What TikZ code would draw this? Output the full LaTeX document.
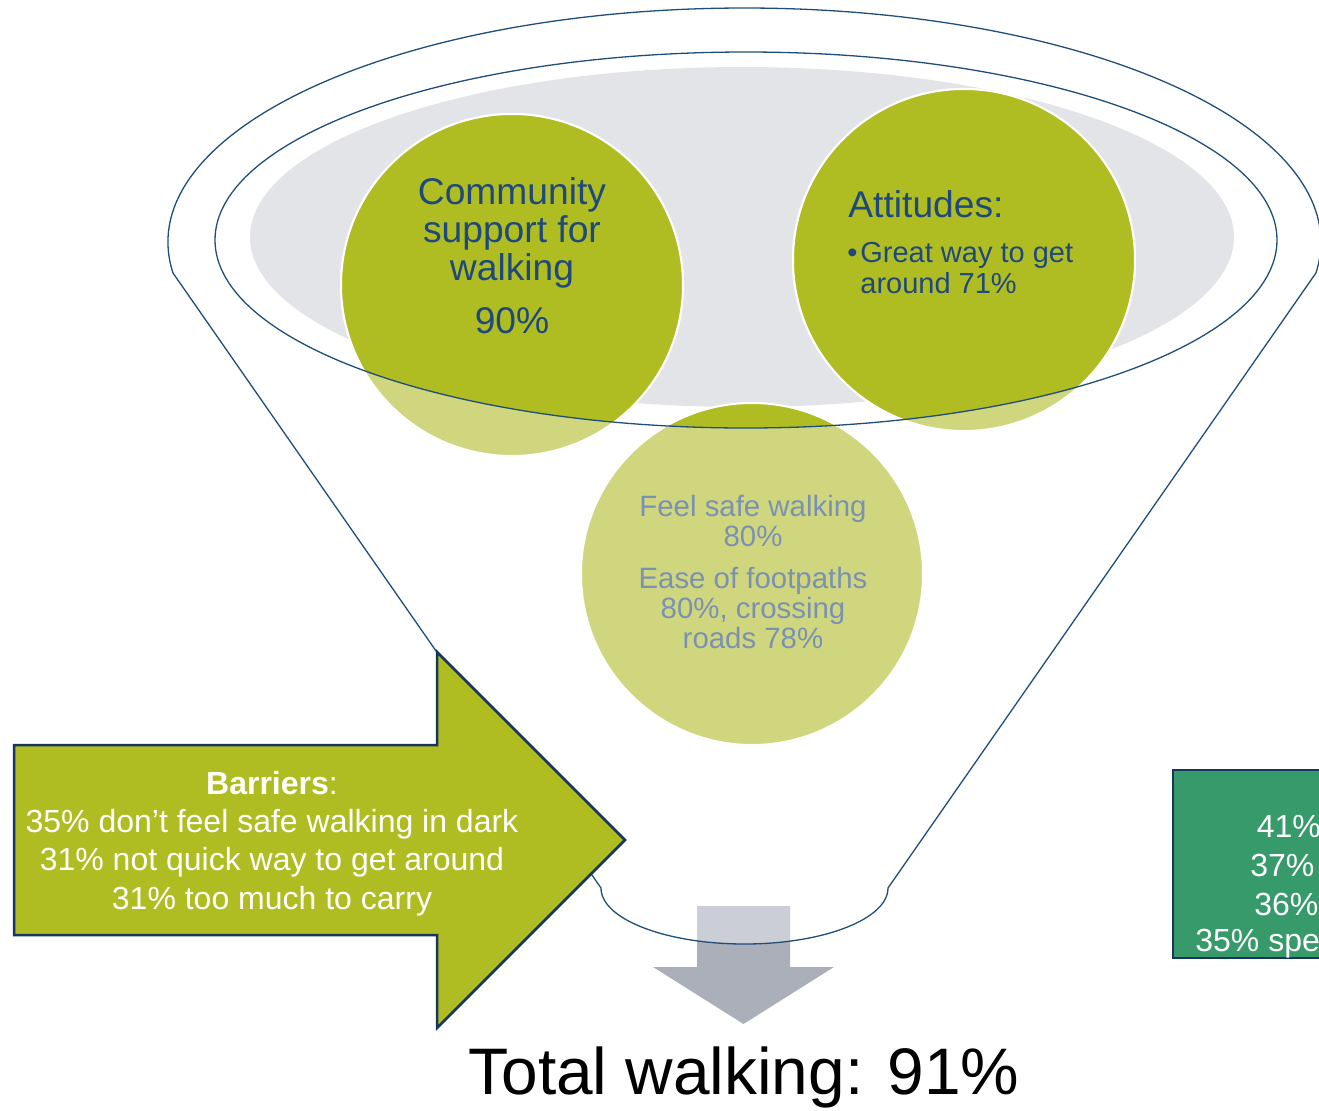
\documentclass[tikz,border=0pt]{standalone}
\usepackage{fontspec}
\setmainfont{Liberation Sans}
\definecolor{olive}{HTML}{AFBD22}
\definecolor{olivelight}{HTML}{D0D67E}
\definecolor{rimblue}{HTML}{1F4E79}
\definecolor{navytext}{HTML}{1F497D}
\definecolor{softblue}{HTML}{7A92B2}
\definecolor{haze}{HTML}{E3E4E8}
\definecolor{boxgreen}{HTML}{379A6B}
\definecolor{edgenavy}{HTML}{17365D}
\definecolor{arrowlight}{HTML}{CBCED6}
\definecolor{arrowdark}{HTML}{ABAFBA}
\begin{document}
\begin{tikzpicture}[x=0.5pt,y=-0.5pt,
  rimline/.style={draw=rimblue, line width=0.65pt},
  disc/.style={draw=white, line width=1pt},
  label/.style={inner sep=0pt, anchor=base},
  bigtxt/.style={label, text=navytext, font=\fontsize{18.6}{20}\selectfont},
  midtxt/.style={label, text=navytext, font=\fontsize{14.5}{16}\selectfont, anchor=base west},
  softtxt/.style={label, text=softblue, font=\fontsize{14.7}{16}\selectfont},
  whitetxt/.style={label, text=white, font=\fontsize{16}{18}\selectfont},
  boxed/.style={draw=edgenavy, line width=1.25pt, line join=miter}]
\useasboundingbox (0,0) rectangle (1319,1110);
\clip (0,0) rectangle (1319,1110);

% funnel outline: elliptic top, straight sides, rounded spout
\def\funnelpath{(173,273) arc[start angle=172.44, end angle=367.56, x radius=576.5, y radius=234.2]
  -- (888,888) arc[start angle=0, end angle=180, x radius=143.5, y radius=56] -- cycle}
\def\rimpath{(746,240) ellipse [x radius=531, y radius=188]}

\coordinate (cA) at (512,285);
\coordinate (cB) at (964,260);
\coordinate (cC) at (752,574);

% grey mouth of the funnel
\fill[haze] (742,237) ellipse [x radius=492, y radius=170];

% the three discs, pale outside the rim and full colour inside it
\foreach \c in {cA,cB,cC} \path[disc, fill=olivelight] (\c) circle [radius=171];
\begin{scope}
  \clip \rimpath;
  \foreach \c in {cA,cB,cC} \path[disc, fill=olive] (\c) circle [radius=171];
\end{scope}

% downward output arrow, lighter where it sits inside the spout
\path[fill=arrowdark] (697,906) -- (790,906) -- (790,967) -- (834,967)
  -- (743.5,1024) -- (653,967) -- (697,967) -- cycle;
\begin{scope}
  \clip \funnelpath;
  \path[fill=arrowlight] (697,906) rectangle (790,967);
\end{scope}

% rim and funnel lines
\draw[rimline] \rimpath;
\draw[rimline] \funnelpath;

% disc texts
\node[bigtxt] (ca1) at (512,204.3) {Community};
\node[bigtxt] (ca2) at (512,242.3) {support for};
\node[bigtxt] (ca3) at (512,280.5) {walking};
\node[bigtxt] (ca4) at (512,333.3) {90\%};

\node[bigtxt, anchor=base west] (cb1) at (848,217) {Attitudes:};
\node[midtxt] (cbdot) at (847,262) {•};
\node[midtxt] (cb2) at (860,262) {Great way to get};
\node[midtxt] (cb3) at (860,293) {around 71\%};

\node[softtxt] (cc1) at (753,516.7) {Feel safe walking};
\node[softtxt] (cc2) at (753,546.7) {80\%};
\node[softtxt] (cc3) at (753,588.3) {Ease of footpaths};
\node[softtxt] (cc4) at (753,618.3) {80\%, crossing};
\node[softtxt] (cc5) at (753,648.3) {roads 78\%};

% barriers arrow
\path[fill=olive, boxed] (14,745) -- (437,745) -- (437,652) -- (625,840)
  -- (437,1028) -- (437,935) -- (14,935) -- cycle;
\node[whitetxt] (br1) at (272,794.5) {\textbf{Barriers}:};
\node[whitetxt] (br2) at (272,832.5) {35\% don’t feel safe walking in dark};
\node[whitetxt] (br3) at (272,870.5) {31\% not quick way to get around};
\node[whitetxt] (br4) at (272,909) {31\% too much to carry};

% green panel at the right edge
\path[fill=boxgreen, boxed] (1173,770) rectangle (1345,958);
\node[whitetxt, anchor=base west] (g1) at (1256.5,837.7) {41\%};
\node[whitetxt, anchor=base west] (g2) at (1250,876.7) {37\%};
\node[whitetxt, anchor=base west] (g3) at (1254,915) {36\%};
\node[whitetxt, anchor=base west] (g4) at (1195,951.7) {35\% spe};

% result
\node[label, font=\fontsize{32.9}{36}\selectfont] (total) at (744,1094) {Total walking: 91\%};
\end{tikzpicture}
\end{document}
